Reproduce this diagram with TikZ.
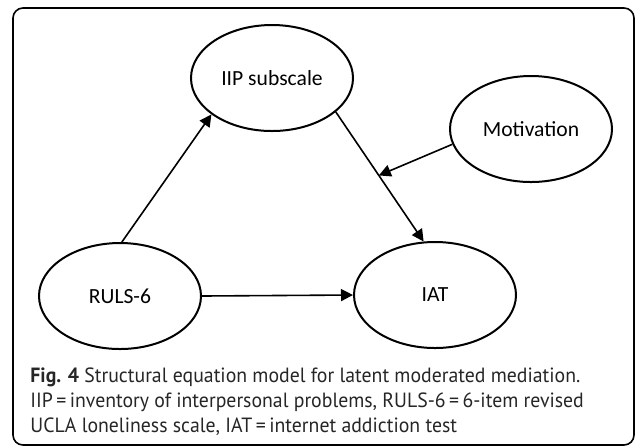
\documentclass[tikz,border=0pt]{standalone}
\usepackage{fontspec}
\setmainfont{Carlito}
\newfontfamily\capfont[FakeStretch=0.96]{PT Sans}
\usepackage{tikz}
\usetikzlibrary{arrows.meta, shapes.geometric}
\tikzstyle{latent}=[ellipse, draw=black, line width=1pt, inner sep=0pt, minimum width=81pt, minimum height=53pt, font=\fontsize{10.8}{13}\selectfont]
\tikzstyle{arrow}=[draw=black, line width=0.8pt, >={Triangle[length=6pt, width=6pt]}]
\tikzstyle{frame}=[draw=black, line width=0.8pt, rounded corners=5pt]
\tikzstyle{captext}=[anchor=base west, inner sep=0pt, text=black!85, font=\capfont\fontsize{10.3}{12.5}\selectfont]

\begin{document}
\begin{tikzpicture}[x=0.5pt, y=-0.5pt]
		   \useasboundingbox (0,0) rectangle (637,447);
		   \draw[frame] (13,8) rectangle (634,445);
		   \begin{scope}
			   \node (IIP) at (272, 78)[latent] {IIP subscale};
			   \node (Mot) at (531, 129)[latent] {Motivation};
			   \node (RULS) at (120, 296)[latent] {RULS-6};
			   \node (IAT) at (435, 295)[latent] {IAT};
			   \node (cap1) at (30, 382)[captext] {\textbf{Fig. 4} Structural equation model for latent moderated mediation.};
			   \node (cap2) at (30, 407)[captext] {IIP\,=\,inventory of interpersonal problems, RULS-6\,=\,6-item revised};
			   \node (cap3) at (30, 432)[captext] {UCLA loneliness scale, IAT\,=\,internet addiction test};
		   \end{scope}
		   \begin{scope}
			   \draw [arrow, ->] (RULS.88) -- (IIP.211);
			   \draw [arrow, ->] (IIP.332) -- coordinate[pos=0.49] (m) (IAT.102);
			   \draw [arrow, ->] (Mot.191) -- (m);
			   \draw [arrow, ->] (RULS.east) -- (IAT.west);
		   \end{scope}
	   \end{tikzpicture}
\end{document}
